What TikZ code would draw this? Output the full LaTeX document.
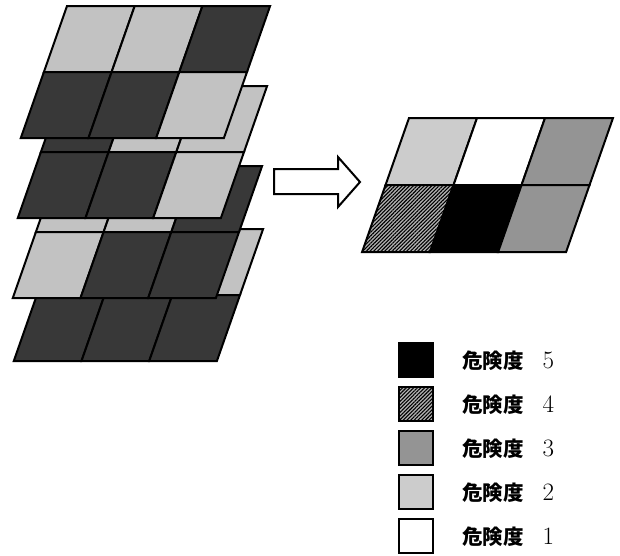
\documentclass[tikz,border=0pt]{standalone}
\usepackage{fontspec}
\newfontfamily\cjkfont{Noto Sans CJK JP}
\usetikzlibrary{patterns.meta}
\colorlet{stkD}{black!78}
\colorlet{stkL}{black!24}
\tikzset{
  cellbox/.style={draw=black, line width=2pt, line join=miter},
  rkA/.style={fill=white},
  rkB/.style={fill=black!20},
  rkC/.style={fill=black!42},
  rkD/.style={fill=black!30, postaction={pattern={Lines[angle=45,distance=2.6pt,line width=1.1pt]}, pattern color=black}},
  rkE/.style={fill=black},
  legbox/.style={draw=black, line width=2pt, minimum size=34pt, inner sep=0pt},
  legtext/.style={anchor=west, inner sep=0pt, font=\fontsize{20}{22}\selectfont},
  slant/.style={x={(1pt,0pt)}, y={(-0.35pt,-1pt)}},
}
\newcommand\stacklayer[3]{%
  \begin{scope}[shift={(#1pt,-#2pt)}, slant]
    \foreach \i/\j/\c in {#3}
      \draw[cellbox, fill=\c] ({\i*67.7},{\j*66}) -- ({(\i+1)*67.7},{\j*66})
        -- ({(\i+1)*67.7},{(\j+1)*66}) -- ({\i*67.7},{(\j+1)*66}) -- cycle;
  \end{scope}}
\newcommand\mapcell[3]{%
  \draw[cellbox, #3] ({#1*68},{#2*67}) -- ({(#1+1)*68},{#2*67})
    -- ({(#1+1)*68},{(#2+1)*67}) -- ({#1*68},{(#2+1)*67}) -- cycle;}
\newcommand\risklabel[1]{{\cjkfont\bfseries\fontsize{20.5}{22}\selectfont 危険度}\hspace{19pt}{\fontsize{25}{25}\selectfont #1}}
\begin{document}
\begin{tikzpicture}[x=1pt, y=-1pt]
\useasboundingbox (0,0) rectangle (620,555);
% stacked layers, back to front
\stacklayer{60}{229}{0/0/stkD,1/0/stkD,2/0/stkL,0/1/stkD,1/1/stkD,2/1/stkD}
\stacklayer{59}{166}{0/0/stkL,1/0/stkL,2/0/stkD,0/1/stkL,1/1/stkD,2/1/stkD}
\stacklayer{64}{86}{0/0/stkD,1/0/stkL,2/0/stkL,0/1/stkD,1/1/stkD,2/1/stkL}
\stacklayer{67}{6}{0/0/stkL,1/0/stkL,2/0/stkD,0/1/stkD,1/1/stkD,2/1/stkL}
% block arrow
\draw[line width=2pt, line join=miter, fill=white]
  (274,169) -- (338,169) -- (338,157) -- (360,182) -- (338,207) -- (338,194) -- (274,194) -- cycle;
% result map
\begin{scope}[shift={(409pt,-118pt)}, slant]
  \mapcell{0}{0}{rkB}
  \mapcell{1}{0}{rkA}
  \mapcell{2}{0}{rkC}
  \mapcell{0}{1}{rkD}
  \mapcell{1}{1}{rkE}
  \mapcell{2}{1}{rkC}
\end{scope}
% legend
\node[legbox, rkE] (l5) at (416,360) {};
\node[legbox, rkD] (l4) at (416,404) {};
\node[legbox, rkC] (l3) at (416,448) {};
\node[legbox, rkB] (l2) at (416,492) {};
\node[legbox, rkA] (l1) at (416,536) {};
\node[legtext] (t5) at (462,361) {\risklabel{5}};
\node[legtext] (t4) at (462,405) {\risklabel{4}};
\node[legtext] (t3) at (462,449) {\risklabel{3}};
\node[legtext] (t2) at (462,493) {\risklabel{2}};
\node[legtext] (t1) at (462,537) {\risklabel{1}};
\end{tikzpicture}
\end{document}
